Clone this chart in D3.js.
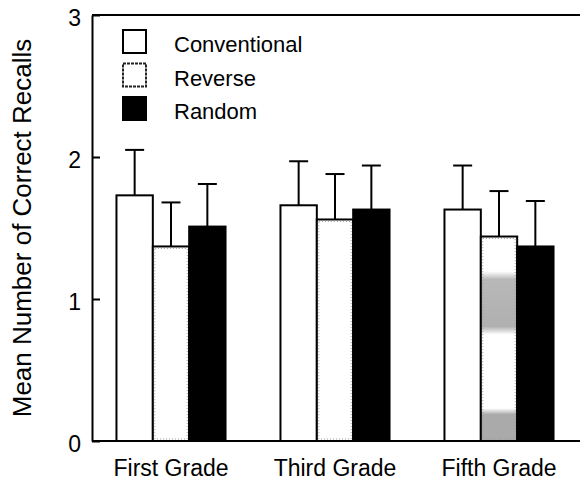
<!DOCTYPE html>
<html lang="en">
<head>
    <meta charset="UTF-8">
    <title>Correct Recalls</title>
    <script src="https://cdn.jsdelivr.net/npm/d3@7"></script>
    <style>
        body { margin: 0; background: #fff; }
        text { font-family: "Liberation Sans", Arial, Helvetica, sans-serif; fill: #000; }
    </style>
</head>
<body>
<svg id="chart" width="580" height="482"></svg>

<script>
    /* global d3*/

    var grades = ["First Grade", "Third Grade", "Fifth Grade"];
    var series = ["Conventional", "Reverse", "Random"];

    // mean number of correct recalls, one array per series (by grade)
    var conventional = [1.73, 1.66, 1.63];
    var reverse      = [1.37, 1.56, 1.44];
    var random       = [1.51, 1.63, 1.37];

    // upper error bar length
    var conventionalErr = [0.32, 0.31, 0.31];
    var reverseErr      = [0.31, 0.32, 0.32];
    var randomErr       = [0.30, 0.31, 0.32];

    var yTicks = [0, 1, 2, 3];

    var svg = d3.select("#chart"),
        width = +svg.attr("width"),
        plotTop = 15,
        plotBottom = 441,
        plotLeft = 92;

    var means = {Conventional: conventional, Reverse: reverse, Random: random},
        errs = {Conventional: conventionalErr, Reverse: reverseErr, Random: randomErr};

    var rows = [];
    grades.forEach(function (g, i) {
        series.forEach(function (s) {
            rows.push({grade: g, series: s, value: means[s][i], err: errs[s][i]});
        });
    });

    var y = d3.scaleLinear().domain([0, 3]).range([plotBottom, plotTop]);

    var x0 = d3.scaleBand()
        .domain(grades)
        .range([89, 581])
        .paddingInner(0.335)
        .paddingOuter(0.1675);

    var x1 = d3.scaleBand()
        .domain(series)
        .range([0, x0.bandwidth()]);

    // scan-like grey blotches on the fifth grade "reverse" bar
    var defs = svg.append("defs");
    var grad = defs.append("linearGradient")
        .attr("id", "smudge")
        .attr("x1", 0).attr("y1", 0).attr("x2", 0).attr("y2", 1);
    [[0, "#fff"], [0.17, "#fff"], [0.21, "#b8b8b8"], [0.44, "#b0b0b0"], [0.48, "#fff"],
        [0.84, "#fff"], [0.87, "#aaa"], [1, "#aaa"]].forEach(function (s) {
        grad.append("stop").attr("offset", s[0]).attr("stop-color", s[1]);
    });

    function fillFor(d) {
        if (d.series === "Random") return "#000";
        if (d.series === "Reverse" && d.grade === "Fifth Grade") return "url(#smudge)";
        return "#fff";
    }

    // error bars (upward only)
    var eb = svg.append("g")
        .attr("stroke", "#000")
        .attr("stroke-width", 2);

    rows.forEach(function (d) {
        var cx = x0(d.grade) + x1(d.series) + x1.bandwidth() / 2;
        eb.append("line")
            .attr("x1", cx).attr("x2", cx)
            .attr("y1", y(d.value)).attr("y2", y(d.value + d.err));
        eb.append("line")
            .attr("x1", cx - 9.5).attr("x2", cx + 9.5)
            .attr("y1", y(d.value + d.err)).attr("y2", y(d.value + d.err));
    });

    // bars
    var bars = svg.append("g")
        .selectAll("rect")
        .data(rows)
        .enter().append("rect")
        .attr("x", function (d) { return x0(d.grade) + x1(d.series); })
        .attr("width", x1.bandwidth())
        .attr("y", function (d) { return y(d.value); })
        .attr("height", function (d) { return y(0) - y(d.value); })
        .attr("fill", fillFor)
        .attr("stroke", "#000")
        .attr("stroke-width", 2);

    // faint stipple just inside the reverse bars
    svg.append("g")
        .selectAll("rect")
        .data(rows.filter(function (d) { return d.series === "Reverse"; }))
        .enter().append("rect")
        .attr("x", function (d) { return x0(d.grade) + x1(d.series) + 2; })
        .attr("width", x1.bandwidth() - 4)
        .attr("y", function (d) { return y(d.value) + 2; })
        .attr("height", function (d) { return y(0) - y(d.value) - 4; })
        .attr("fill", "none")
        .attr("stroke", "#999")
        .attr("stroke-width", 1)
        .attr("stroke-dasharray", "1,2");

    // frame: top and bottom lines run off the right edge
    svg.append("line")
        .attr("x1", plotLeft).attr("x2", width + 5)
        .attr("y1", y(3)).attr("y2", y(3))
        .attr("stroke", "#000").attr("stroke-width", 2);
    svg.append("line")
        .attr("x1", plotLeft).attr("x2", width + 5)
        .attr("y1", y(0)).attr("y2", y(0))
        .attr("stroke", "#000").attr("stroke-width", 2);

    // y axis, ticks pointing inward
    var yAxis = svg.append("g")
        .attr("transform", "translate(" + plotLeft + ",0)")
        .call(d3.axisLeft(y)
            .tickValues(yTicks)
            .tickFormat(d3.format("d"))
            .tickSizeInner(-8)
            .tickSizeOuter(0)
            .tickPadding(11));
    yAxis.select(".domain").attr("stroke-width", 2);
    yAxis.selectAll(".tick line").attr("stroke-width", 2);
    yAxis.selectAll("text")
        .style("font-size", "23px")
        .style("font-family", "'Liberation Sans', Arial, sans-serif")
        .attr("dy", "0.45em");

    // x axis labels
    var xAxis = svg.append("g")
        .attr("transform", "translate(0," + plotBottom + ")")
        .call(d3.axisBottom(x0).tickSize(0).tickPadding(19));
    xAxis.select(".domain").remove();
    xAxis.selectAll("text")
        .style("font-size", "23px")
        .style("font-family", "'Liberation Sans', Arial, sans-serif");

    // y title
    svg.append("text")
        .attr("transform", "translate(31," + ((plotTop + plotBottom) / 2) + ") rotate(-90)")
        .attr("text-anchor", "middle")
        .style("font-size", "26px")
        .text("Mean Number of Correct Recalls");

    // legend
    var legend = svg.append("g")
        .selectAll("g")
        .data(series)
        .enter().append("g")
        .attr("transform", function (d, i) { return "translate(123," + (30 + i * 33.5) + ")"; });

    legend.append("rect")
        .attr("width", 23)
        .attr("height", 23)
        .attr("fill", function (d) { return d === "Random" ? "#000" : "#fff"; })
        .attr("stroke", function (d) { return d === "Reverse" ? "#222" : "#000"; })
        .attr("stroke-width", 2)
        .attr("stroke-dasharray", function (d) { return d === "Reverse" ? "3,1" : null; });

    legend.append("text")
        .attr("x", 51)
        .attr("y", 22)
        .style("font-size", "22px")
        .text(function (d) { return d; });

</script>
</body>
</html>
